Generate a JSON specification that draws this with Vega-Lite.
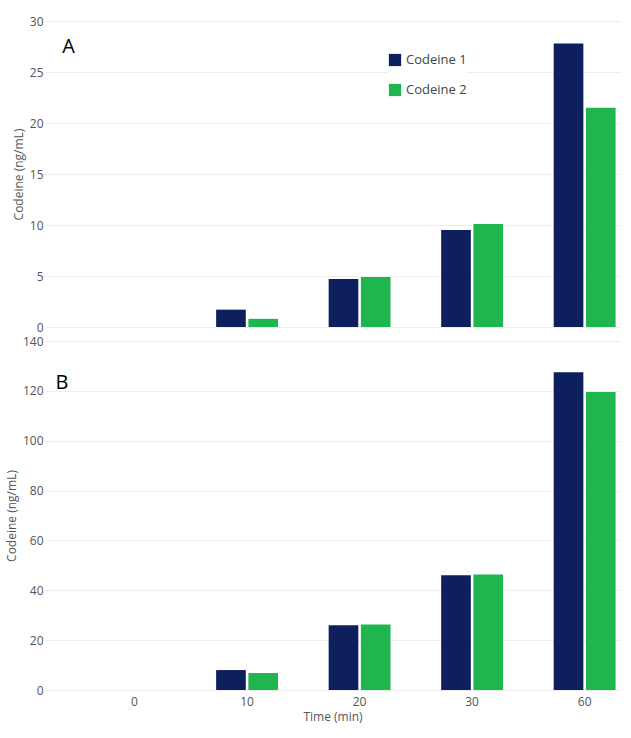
{
  "$schema": "https://vega.github.io/schema/vega-lite/v6.json",
  "padding": {"left": 5, "top": 15, "right": 5, "bottom": 5},
  "spacing": 2,
  "config": {
    "view": {"stroke": null},
    "font": "Open Sans",
    "axis": {"grid": true, "gridColor": "#eeeeee", "domain": false, "ticks": false, "labelColor": "#555", "titleColor": "#555", "labelFontSize": 12, "titleFontSize": 12, "titleFontWeight": "normal"}
  },
  "datasets": {
    "a": [
      {"time": "0", "series": "Codeine 1", "value": 0},
      {"time": "0", "series": "Codeine 2", "value": 0},
      {"time": "10", "series": "Codeine 1", "value": 1.7},
      {"time": "10", "series": "Codeine 2", "value": 0.8},
      {"time": "20", "series": "Codeine 1", "value": 4.7},
      {"time": "20", "series": "Codeine 2", "value": 4.9},
      {"time": "30", "series": "Codeine 1", "value": 9.5},
      {"time": "30", "series": "Codeine 2", "value": 10.1},
      {"time": "60", "series": "Codeine 1", "value": 27.8},
      {"time": "60", "series": "Codeine 2", "value": 21.5}
    ],
    "b": [
      {"time": "0", "series": "Codeine 1", "value": 0},
      {"time": "0", "series": "Codeine 2", "value": 0},
      {"time": "10", "series": "Codeine 1", "value": 8},
      {"time": "10", "series": "Codeine 2", "value": 6.8},
      {"time": "20", "series": "Codeine 1", "value": 26},
      {"time": "20", "series": "Codeine 2", "value": 26.3},
      {"time": "30", "series": "Codeine 1", "value": 46},
      {"time": "30", "series": "Codeine 2", "value": 46.3},
      {"time": "60", "series": "Codeine 1", "value": 127.5},
      {"time": "60", "series": "Codeine 2", "value": 119.5}
    ]
  },
  "vconcat": [
    {
      "data": {"name": "a"},
      "width": 575,
      "height": 306,
      "title": {"text": "A", "anchor": "start", "dx": 50, "dy": 12, "fontSize": 20, "fontWeight": "normal", "offset": -30},
      "mark": {"type": "bar"},
      "encoding": {
        "x": {"field": "time", "type": "ordinal", "sort": ["0", "10", "20", "30", "60"], "scale": {"paddingInner": 0.45, "paddingOuter": 0.28, "align": 0.93}, "axis": null},
        "xOffset": {"field": "series", "scale": {"paddingInner": 0.08}},
        "y": {"field": "value", "type": "quantitative", "scale": {"domain": [0, 30]}, "axis": {"title": "Codeine (ng/mL)", "tickCount": 6}},
        "color": {"field": "series", "scale": {"range": ["#0d1f5c", "#1fb54f"]}, "legend": {"title": null, "orient": "none", "legendX": 343, "legendY": 32, "labelFontSize": 13, "symbolType": "square", "symbolSize": 150, "rowPadding": 16, "labelColor": "#444", "fillColor": "white"}}
      }
    },
    {
      "data": {"name": "b"},
      "width": 575,
      "height": 349,
      "title": {"text": "B", "anchor": "start", "dx": 50, "dy": 28, "fontSize": 20, "fontWeight": "normal", "offset": -30},
      "mark": {"type": "bar"},
      "encoding": {
        "x": {"field": "time", "type": "ordinal", "sort": ["0", "10", "20", "30", "60"], "scale": {"paddingInner": 0.45, "paddingOuter": 0.28, "align": 0.93}, "axis": {"title": "Time (min)", "labelAngle": 0, "labelPadding": 6, "titlePadding": 4, "grid": false}},
        "xOffset": {"field": "series", "scale": {"paddingInner": 0.08}},
        "y": {"field": "value", "type": "quantitative", "scale": {"domain": [0, 140]}, "axis": {"title": "Codeine (ng/mL)", "tickCount": 7}},
        "color": {"field": "series", "scale": {"range": ["#0d1f5c", "#1fb54f"]}, "legend": null}
      }
    }
  ]
}
